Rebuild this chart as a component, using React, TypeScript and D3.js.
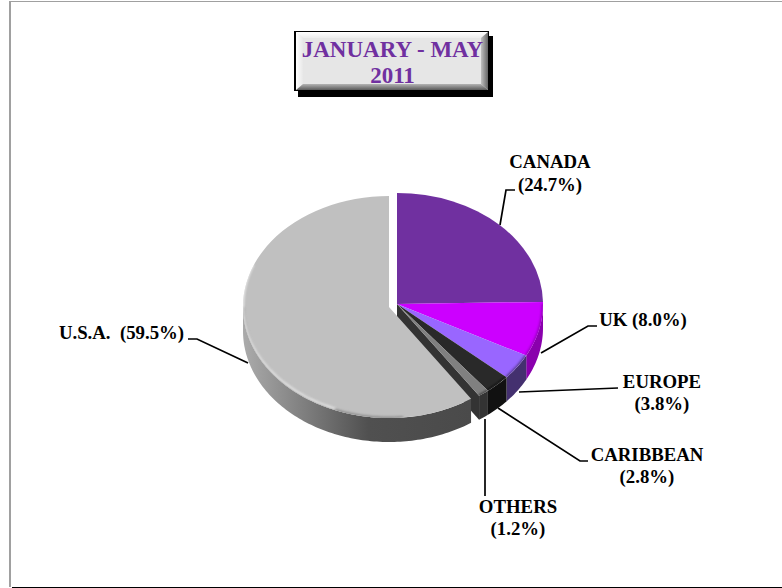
import React from 'react';
import * as d3 from 'd3';

const categories = ['CANADA', 'UK', 'EUROPE', 'CARIBBEAN', 'OTHERS', 'U.S.A.'];
const shares = [24.7, 8.0, 3.8, 2.8, 1.2, 59.5];
const topColors = ['#7030a0', '#cc00ff', '#9966ff', '#292929', '#808080', '#c0c0c0'];
const wallColors = ['#4a2070', '#8a00ad', '#44306f', '#111111', '#333333', '#666666'];

const width = 782;
const height = 588;
const cx = 397;
const cy = 304;
const rx = 146;
const ry = 111;
const depth = 24;

const pieGen = d3.pie<number>().sort(null);
const slices = pieGen(shares);

const rimPoint = (a: number, ox = 0, oy = 0): [number, number] => [
  cx + ox + rx * Math.sin(a),
  cy + oy - ry * Math.cos(a),
];

// top face: unit arc squashed into an ellipse
const arcGen = d3.arc<any>().innerRadius(0).outerRadius(1);

const rimPath = (a0: number, a1: number, ox = 0, oy = 0) =>
  d3.line()(d3.range(a0, a1, 0.02).concat(a1).map(a => rimPoint(a, ox, oy))) as string;

// outer wall of a slice, only the part facing the viewer
const wallPath = (a0: number, a1: number, ox = 0, oy = 0) => {
  const start = Math.max(a0, Math.PI / 2);
  const end = Math.min(a1, (3 * Math.PI) / 2);
  if (end <= start) return '';
  const angles = d3.range(start, end, 0.02).concat(end);
  const upper = angles.map(a => rimPoint(a, ox, oy));
  const lower = angles.map(a => rimPoint(a, ox, oy + depth)).reverse();
  return d3.line()([...upper, ...lower]) + 'Z';
};

const labelLines = [
  { lines: ['CANADA', '(24.7%)'], x: 550, y: 168, gap: 23, leader: [[500, 225], [506, 190], [515, 190]] },
  { lines: ['UK (8.0%)'], x: 643, y: 326, gap: 22, leader: [[541, 353], [588, 326], [597, 326]] },
  { lines: ['EUROPE', '(3.8%)'], x: 662, y: 388, gap: 22, leader: [[519, 392], [618, 388]] },
  { lines: ['CARIBBEAN', '(2.8%)'], x: 647, y: 461, gap: 22, leader: [[498, 408], [580, 461], [588, 461]] },
  { lines: ['OTHERS', '(1.2%)'], x: 518, y: 513, gap: 22, leader: [[485, 419], [485, 496]] },
  { lines: ['U.S.A.  (59.5%)'], x: 121.5, y: 339, gap: 22, leader: [[248, 363], [197, 339], [188, 339]] },
];

export default function App() {
  const usa = slices[5];
  const usaOx = -8;
  const usaOy = 3;
  const cutAngle = slices[4].endAngle;
  const [rimX, rimY] = rimPoint(cutAngle);
  const cutWall = d3.line()([
    [cx, cy],
    [rimX, rimY],
    [rimX, rimY + depth],
    [cx, cy + depth],
  ]) + 'Z';

  return (
    <svg
      width={width}
      height={height}
      style={{ position: 'absolute', left: 0, top: 0, fontFamily: '"Liberation Serif", serif' }}
    >
      <defs>
        <linearGradient id="wallShade" x1="0" x2="1" y1="0" y2="0">
          <stop offset="0" stopColor="#ababab" />
          <stop offset="0.2" stopColor="#8a8a8a" />
          <stop offset="0.55" stopColor="#505050" />
          <stop offset="1" stopColor="#4a4a4a" />
        </linearGradient>
        <linearGradient id="bevelTop" x1="0" x2="0" y1="0" y2="1">
          <stop offset="0" stopColor="#ffffff" />
          <stop offset="1" stopColor="#ececec" />
        </linearGradient>
        <linearGradient id="bevelBottom" x1="0" x2="0" y1="0" y2="1">
          <stop offset="0" stopColor="#b4b4b4" />
          <stop offset="1" stopColor="#5a5a5a" />
        </linearGradient>
        <linearGradient id="bevelLeft" x1="0" x2="1" y1="0" y2="0">
          <stop offset="0" stopColor="#ffffff" />
          <stop offset="1" stopColor="#e8e8e8" />
        </linearGradient>
        <linearGradient id="bevelRight" x1="0" x2="1" y1="0" y2="0">
          <stop offset="0" stopColor="#c0c0c0" />
          <stop offset="1" stopColor="#666666" />
        </linearGradient>
        <filter id="soft" x="-20%" y="-20%" width="140%" height="140%">
          <feGaussianBlur stdDeviation="1" />
        </filter>
        <clipPath id="usaClip">
          <path
            d={arcGen(usa) as string}
            transform={`translate(${cx + usaOx},${cy + usaOy}) scale(${rx},${ry})`}
          />
        </clipPath>
        {slices.slice(0, 5).map((s, i) => (
          <clipPath id={`sliceClip${i}`} key={categories[i]}>
            <path d={arcGen(s) as string} transform={`translate(${cx},${cy}) scale(${rx},${ry})`} />
          </clipPath>
        ))}
      </defs>

      {/* page frame: no line on the right side */}
      <line x1={10} x2={10} y1={1} y2={587} stroke="#a0a0a0" strokeWidth={2} />
      <line x1={9} x2={782} y1={1.5} y2={1.5} stroke="#a0a0a0" />
      <line x1={12} x2={782} y1={587.5} y2={587.5} stroke="#000" />

      {/* title box */}
      <g>
        <rect x={298} y={36} width={195} height={61} fill="#000" />
        <rect x={294} y={31} width={195} height={60} fill="#000" />
        <rect x={296} y={32} width={192} height={58} fill="#e6e6e6" />
        <path d="M296,32H488L481,38H303Z" fill="url(#bevelTop)" />
        <path d="M296,32L303,38V84L296,90Z" fill="url(#bevelLeft)" />
        <path d="M488,32L481,38V84L488,90Z" fill="url(#bevelRight)" />
        <path d="M296,90L303,84H481L488,90Z" fill="url(#bevelBottom)" />
        <text x={392.5} y={57} textAnchor="middle" fontSize={23} fontWeight="bold" fill="#7030a0">
          JANUARY - MAY
        </text>
        <text x={392.5} y={83} textAnchor="middle" fontSize={23} fontWeight="bold" fill="#7030a0">
          2011
        </text>
      </g>

      {/* rest of the pie */}
      <path d={cutWall} fill="#333333" />
      {slices.slice(0, 5).map((s, i) => (
        <path key={categories[i]} d={wallPath(s.startAngle, s.endAngle)} fill={wallColors[i]} />
      ))}
      {slices.slice(0, 5).map((s, i) => (
        <g key={categories[i]}>
          <path
            d={arcGen(s) as string}
            transform={`translate(${cx},${cy}) scale(${rx},${ry})`}
            fill={topColors[i]}
          />
          {/* soft dark rim only on the front half */}
          {s.endAngle > Math.PI / 2 && (
            <g clipPath={`url(#sliceClip${i})`}>
              <path
                d={rimPath(Math.max(s.startAngle, Math.PI / 2), s.endAngle)}
                fill="none"
                stroke={wallColors[i]}
                strokeWidth={3}
                opacity={0.8}
                filter="url(#soft)"
              />
            </g>
          )}
        </g>
      ))}

      {/* USA slice, pulled out of the pie */}
      <path d={wallPath(usa.startAngle, usa.endAngle, usaOx, usaOy)} fill="url(#wallShade)" />
      <path
        d={arcGen(usa) as string}
        transform={`translate(${cx + usaOx},${cy + usaOy}) scale(${rx},${ry})`}
        fill={topColors[5]}
      />
      <g clipPath="url(#usaClip)">
        <path
          d={rimPath(usa.startAngle + 0.5, Math.PI * 1.5, usaOx, usaOy)}
          fill="none"
          stroke="#909090"
          strokeWidth={3}
          filter="url(#soft)"
        />
        <path
          d={rimPath(Math.PI * 1.12, Math.PI * 1.62, usaOx, usaOy - 1.5)}
          fill="none"
          stroke="#f2f2f2"
          strokeWidth={2}
          filter="url(#soft)"
        />
      </g>

      {/* leaders and labels */}
      {labelLines.map(l => (
        <g key={l.lines[0]}>
          <path d={d3.line()(l.leader as [number, number][]) as string} fill="none" stroke="#000" strokeWidth={1.7} />
          {l.lines.map((t, j) => (
            <text
              key={t}
              x={l.x}
              y={l.y + j * l.gap}
              textAnchor="middle"
              fontSize={18.8}
              fontWeight="bold"
              fill="#000"
              style={{ whiteSpace: 'pre' }}
            >
              {t}
            </text>
          ))}
        </g>
      ))}
    </svg>
  );
}
